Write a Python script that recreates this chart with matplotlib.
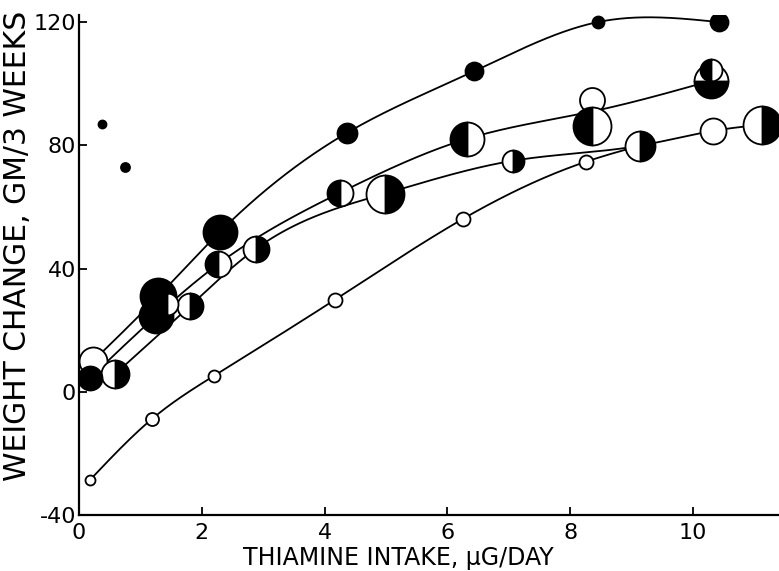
import numpy as np
import matplotlib
matplotlib.use("Agg")
import matplotlib.pyplot as plt

# ---- data ----
# top curve (solid dots)
top_x = [0.23, 1.29, 2.30, 4.36, 6.43, 8.45, 10.42]
top_y = [10.0, 31.0, 52.0, 84.0, 104.0, 120.0, 120.0]
# second curve (left-half filled)
mid_x = [0.18, 1.25, 2.27, 4.25, 6.32, 8.36, 10.30]
mid_y = [4.5, 24.5, 41.5, 64.6, 82.1, 91.0, 101.0]
# third curve (right-half filled)
low_x = [0.59, 1.81, 2.88, 4.98, 7.07, 9.14, 10.33, 11.12]
low_y = [5.8, 27.9, 46.4, 64.3, 75.0, 79.9, 84.7, 86.7]
# bottom curve (open circles)
def_x = [0.18, 1.19, 2.20, 4.17, 6.26, 8.26, 9.14]
def_y = [-28.6, -8.8, 5.2, 29.9, 56.2, 74.7, 79.9]
# isolated solid points
out_x = [0.37, 0.75]
out_y = [87.0, 73.0]
# additional overlapping points
ext_x = [1.43, 8.36, 8.36, 10.30, 10.30]
ext_y = [28.6, 94.8, 86.4, 101.0, 104.5]

x_ticks = [0, 2, 4, 6, 8, 10]
y_ticks = [-40, 0, 40, 80, 120]

# ---- marker styles (radius in px) ----
top_kind = ['open', 'full', 'full', 'full', 'full', 'full', 'full']
top_rad = [14, 18, 17, 10, 9, 6, 9]
mid_kind = ['full', 'full', 'left', 'left', 'left', None, None]
mid_rad = [12, 17, 13, 13, 17, 0, 0]
low_kind = ['right', 'right', 'right', 'right', 'right', 'right', 'open', 'right']
low_rad = [14, 13, 13, 19, 11, 15, 13, 19]
def_kind = ['open'] * 6 + [None]
def_rad = [5, 6.5, 6, 7, 7, 7, 0]
out_kind = ['full', 'full']
out_rad = [4, 4.5]
ext_kind = ['left', 'open', 'left', 'bottom', 'left']
ext_rad = [11, 12.5, 19, 17, 11]


def smooth_line(xs, ys, n=400):
    """Natural cubic spline used only to draw the smooth guide line."""
    x = np.asarray(xs, float)
    y = np.asarray(ys, float)
    k = len(x)
    h = np.diff(x)
    A = np.zeros((k, k))
    b = np.zeros(k)
    A[0, 0] = A[-1, -1] = 1.0
    for i in range(1, k - 1):
        A[i, i - 1] = h[i - 1]
        A[i, i] = 2 * (h[i - 1] + h[i])
        A[i, i + 1] = h[i]
        b[i] = 6 * ((y[i + 1] - y[i]) / h[i] - (y[i] - y[i - 1]) / h[i - 1])
    M = np.linalg.solve(A, b)
    xx = np.linspace(x[0], x[-1], n)
    idx = np.clip(np.searchsorted(x, xx) - 1, 0, k - 2)
    x0, x1 = x[idx], x[idx + 1]
    hh = h[idx]
    yy = (M[idx] * (x1 - xx) ** 3 / (6 * hh) + M[idx + 1] * (xx - x0) ** 3 / (6 * hh)
          + (y[idx] / hh - M[idx] * hh / 6) * (x1 - xx)
          + (y[idx + 1] / hh - M[idx + 1] * hh / 6) * (xx - x0))
    return xx, yy


fig = plt.figure(figsize=(7.79, 5.71), dpi=100)
ax = fig.add_axes([79 / 779, 56 / 571, 1 - 79 / 779, 500 / 571])
ax.set_xlim(0, 11.4)
ax.set_ylim(-40, 122.3)

LW = 1.3
for xs, ys in [(top_x, top_y), (mid_x, mid_y), (low_x, low_y), (def_x, def_y)]:
    xx, yy = smooth_line(xs, ys)
    ax.plot(xx, yy, color='black', lw=LW, zorder=1, solid_capstyle='round')


def draw(xs, ys, kinds, rads, z):
    for x, y, k, r in zip(xs, ys, kinds, rads):
        if k is None:
            continue
        ms = 2 * r * 0.72
        kw = dict(marker='o', ms=ms, mec='black', mew=1.3, ls='none', zorder=z)
        if k == 'open':
            ax.plot([x], [y], mfc='white', **kw)
        elif k == 'full':
            ax.plot([x], [y], mfc='black', **kw)
        else:
            ax.plot([x], [y], mfc='black', markerfacecoloralt='white', fillstyle=k, **kw)
        z += 0.01


draw(top_x, top_y, top_kind, top_rad, 2)
draw(mid_x, mid_y, mid_kind, mid_rad, 3)
draw(low_x, low_y, low_kind, low_rad, 2.5)
draw(def_x, def_y, def_kind, def_rad, 2)
draw(out_x, out_y, out_kind, out_rad, 2)
draw(ext_x, ext_y, ext_kind, ext_rad, 4)

for s in ['top', 'right']:
    ax.spines[s].set_visible(False)
for s in ['left', 'bottom']:
    ax.spines[s].set_linewidth(1.6)

ax.set_xticks(x_ticks)
ax.set_yticks(y_ticks)
ax.set_xticklabels([str(v) for v in x_ticks])
ax.set_yticklabels([str(v) for v in y_ticks])
ax.tick_params(direction='in', length=6, width=1.3, labelsize=16, pad=2)
ax.tick_params(axis='x', pad=6)

ax.set_xlabel('THIAMINE INTAKE, μG/DAY', fontsize=17, labelpad=2)
ax.set_ylabel('WEIGHT CHANGE, GM/3 WEEKS', fontsize=21.5, labelpad=1)
ax.xaxis.label.set_x(0.456)
ax.yaxis.label.set_y(0.538)

fig.savefig('out.png', dpi=100)
